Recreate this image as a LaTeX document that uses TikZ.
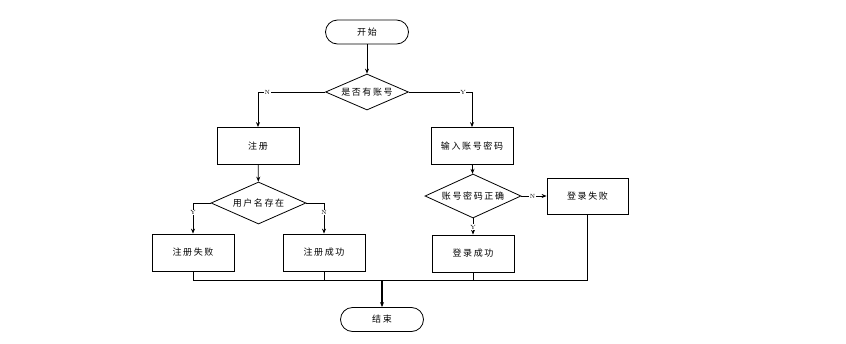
\documentclass[tikz,border=0pt]{standalone}
\usepackage{fontspec}
\newfontfamily\cjk[LetterSpace=18]{Noto Sans CJK SC}
\usetikzlibrary{shapes.geometric,arrows.meta}

\begin{document}
\begin{tikzpicture}[x=1pt, y=-1pt, line width=0.8pt,
  arr/.style={-{Stealth[length=5pt,width=4pt]}},
  term/.style={draw, rectangle, rounded corners=12pt, minimum width=83, minimum height=24, font=\cjk\fontsize{9}{9}\selectfont},
  proc/.style={draw, rectangle, minimum width=82, minimum height=37, font=\cjk\fontsize{9}{9}\selectfont},
  judge/.style={draw, diamond, aspect=2.3, inner sep=0pt, font=\cjk\fontsize{9}{9}\selectfont},
  lbl/.style={fill=white, inner sep=0.6pt, font=\fontsize{6}{6}\selectfont}]
  \useasboundingbox (0,0) rectangle (846,343);

  % 开始与第一个判断
  \node[term] (start) at (367,32) {开始};
  \node[judge, minimum width=83, minimum height=36] (hasacc) at (367,92) {是否有账号};

  % 注册分支
  \node[proc] (reg) at (258,146) {注册};
  \node[judge, minimum width=95, minimum height=42] (exist) at (258.5,203) {用户名存在};
  \node[proc] (regfail) at (193,252.5) {注册失败};
  \node[proc] (regok) at (324,252.5) {注册成功};

  % 登录分支
  \node[proc] (input) at (472,146) {输入账号密码};
  \node[judge, minimum width=96, minimum height=44] (check) at (473,196) {账号密码正确};
  \node[proc] (loginok) at (473,253.5) {登录成功};
  \node[proc, minimum width=81, minimum height=36] (loginfail) at (587.5,196) {登录失败};

  % 结束
  \coordinate (merge) at (382,280);
  \node[term] (stop) at (382,319.5) {结束};

  \draw[arr] (start) -- (hasacc);
  \draw[arr] (hasacc.west) -| node[lbl, pos=0.43] {N} (reg.north);
  \draw[arr] (hasacc.east) -| node[lbl, pos=0.43] {Y} (input.north);
  \draw[arr] (reg) -- (exist);
  \draw[arr] (exist.west) -| node[lbl, pos=0.66] {Y} (regfail.north);
  \draw[arr] (exist.east) -| node[lbl, pos=0.66] {N} (regok.north);
  \draw[arr] (input) -- (check);
  \draw[arr] (check.east) -- node[lbl, pos=0.44] {N} (loginfail.west);
  \draw[arr] (check.south) -- node[lbl, pos=0.53] {Y} (loginok.north);

  % 汇合到结束
  \draw (regfail.south) |- (merge);
  \draw (regok.south) |- (merge);
  \draw (loginok.south) |- (merge);
  \draw (loginfail.south) |- (merge);
  \draw[arr, line width=1.2pt] (merge) -- (stop);
\end{tikzpicture}
\end{document}
